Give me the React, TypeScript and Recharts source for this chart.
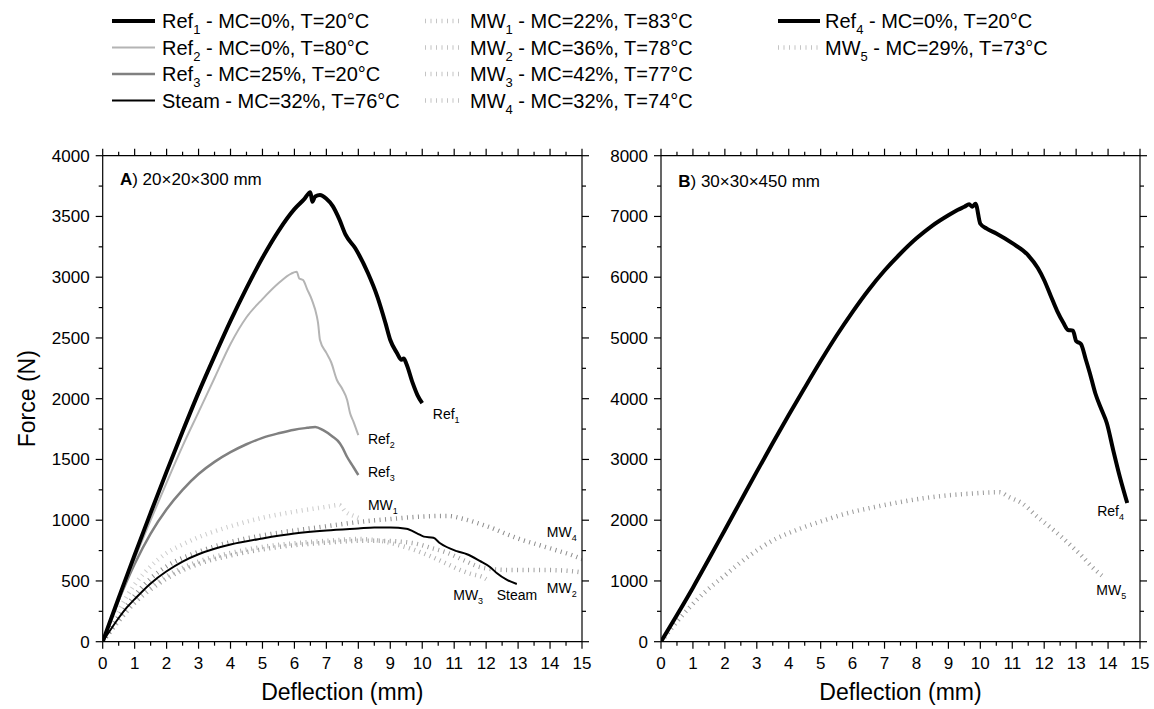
import React from "react";
import { LineChart, Line, XAxis, YAxis, ReferenceDot } from "recharts";

const FONT = "'Liberation Sans', Arial, Helvetica, sans-serif";

type Pt = [number, number];

// Panel A - 20x20x300 mm  [deflection mm, force N]
const ref1: Pt[] = [
  [0, 0], [0.5, 360], [1, 715], [1.5, 1060], [2, 1400], [2.5, 1730], [3, 2050], [3.5, 2350],
  [4, 2640], [4.5, 2910], [5, 3160], [5.5, 3380], [6, 3560], [6.3, 3640], [6.5, 3700], [6.56, 3620],
  [6.65, 3665], [6.8, 3676], [7, 3645], [7.2, 3585], [7.4, 3480], [7.6, 3350], [7.9, 3240], [8.3, 3034],
  [8.6, 2836], [8.85, 2622], [9, 2483], [9.2, 2380], [9.35, 2320], [9.42, 2330], [9.5, 2290], [9.7, 2130],
  [9.85, 2030], [10, 1963],
];
const ref2: Pt[] = [
  [0, 0], [0.5, 340], [1, 680], [1.5, 1000], [2, 1310], [2.5, 1610], [3, 1890], [3.5, 2170],
  [4, 2450], [4.5, 2670], [5, 2820], [5.5, 2950], [5.9, 3030], [6.07, 3045], [6.15, 2990],
  [6.27, 2977], [6.4, 2900], [6.55, 2812], [6.7, 2680], [6.74, 2622], [6.8, 2483], [7, 2377],
  [7.15, 2300], [7.33, 2154], [7.5, 2080], [7.65, 1990], [7.74, 1882], [7.85, 1810], [8, 1700],
];
const ref3: Pt[] = [
  [0, 0], [0.5, 340], [1, 640], [1.5, 890], [2, 1090], [2.5, 1250], [3, 1380], [3.5, 1480],
  [4, 1560], [4.5, 1625], [5, 1678], [5.5, 1715], [6, 1745], [6.4, 1760], [6.65, 1768], [6.9, 1741],
  [7.2, 1687], [7.42, 1634], [7.5, 1600], [7.65, 1520], [7.84, 1440], [8, 1372],
];
const steam: Pt[] = [
  [0, 0], [0.25, 100], [0.5, 195], [0.75, 280], [1, 350], [1.5, 480], [2, 580], [2.5, 660],
  [3, 720], [3.5, 765], [4, 800], [5, 850], [6, 890], [7, 915], [8, 932], [8.5, 940], [9, 940],
  [9.5, 930], [9.85, 890], [10.05, 865], [10.35, 855], [10.56, 810], [11.08, 745], [11.4, 720],
  [11.8, 665], [12.12, 615], [12.33, 565], [12.64, 510], [12.96, 475],
];
const mw1: Pt[] = [
  [0, 0], [0.5, 260], [1, 470], [1.5, 620], [2, 730], [2.5, 800], [3, 860], [4, 950], [5, 1020],
  [6, 1070], [7, 1110], [7.4, 1125], [7.6, 1070], [7.9, 1030], [8.1, 1010],
];
const mw2: Pt[] = [
  [0, 0], [0.5, 170], [1, 320], [1.5, 430], [2, 520], [3, 640], [4, 710], [5, 760], [6, 795],
  [7, 815], [8, 830], [8.7, 830], [9.7, 812], [10.3, 770], [10.8, 730], [11.3, 670], [11.8, 615],
  [12.3, 595], [12.85, 590], [13.9, 590], [14.5, 585], [15, 570],
];
const mw3: Pt[] = [
  [0, 0], [0.5, 180], [1, 330], [1.5, 450], [2, 540], [3, 660], [4, 730], [5, 780], [6, 810],
  [7, 830], [8, 845], [8.7, 830], [9.2, 800], [9.7, 760], [10.2, 710], [10.7, 650], [11.1, 600],
  [11.5, 560], [11.9, 530], [12, 515],
];
const mw4: Pt[] = [
  [0, 0], [0.5, 200], [1, 380], [1.5, 520], [2, 620], [3, 740], [4, 820], [5, 875], [6, 915],
  [7, 950], [8, 985], [9, 1010], [10, 1030], [10.8, 1035], [11.3, 1010], [11.8, 970], [12.1, 944],
  [12.6, 890], [13.1, 840], [13.6, 800], [14.1, 760], [14.6, 720], [15, 680],
];

// Panel B - 30x30x450 mm
const ref4: Pt[] = [
  [0, 0], [0.5, 440], [1, 890], [1.5, 1360], [2, 1840], [2.5, 2320], [3, 2800], [3.5, 3270],
  [4, 3730], [4.5, 4180], [5, 4620], [5.5, 5040], [6, 5430], [6.5, 5790], [7, 6110], [7.5, 6390],
  [8, 6640], [8.5, 6850], [9, 7020], [9.3, 7110], [9.5, 7160], [9.65, 7200], [9.75, 7160],
  [9.85, 7210], [10, 6880], [10.2, 6800], [10.5, 6720], [11, 6560], [11.5, 6360], [11.8, 6150],
  [12, 5950], [12.2, 5700], [12.4, 5450], [12.6, 5250], [12.75, 5130], [12.9, 5120], [13, 4950],
  [13.15, 4900], [13.3, 4650], [13.43, 4420], [13.6, 4090], [13.8, 3814], [13.96, 3600],
  [14.16, 3156], [14.37, 2711], [14.6, 2283],
];
const mw5: Pt[] = [
  [0, 0], [0.5, 330], [0.9, 568], [1.4, 830], [1.95, 1070], [2.7, 1390], [3.5, 1667], [4.3, 1850],
  [5.07, 1990], [5.8, 2110], [6.63, 2210], [7.4, 2290], [8.2, 2360], [9, 2410], [9.77, 2440],
  [10.2, 2455], [10.6, 2460], [10.9, 2380], [11.3, 2280], [11.8, 2050], [12.4, 1790], [12.8, 1600],
  [13.2, 1400], [13.5, 1230], [13.85, 1070],
];

const xTicks = Array.from({ length: 31 }, (_, i) => i / 2);
const yTicksA = Array.from({ length: 17 }, (_, i) => i * 250);
const yTicksB = Array.from({ length: 17 }, (_, i) => i * 500);

// curve-end labels, anchored in data units
const labelsA = [
  { x: 10.33, y: 1833, main: "Ref", sub: "1" },
  { x: 8.3, y: 1627, main: "Ref", sub: "2" },
  { x: 8.3, y: 1358, main: "Ref", sub: "3" },
  { x: 8.3, y: 1084, main: "MW", sub: "1" },
  { x: 13.9, y: 864, main: "MW", sub: "4" },
  { x: 10.97, y: 343, main: "MW", sub: "3" },
  { x: 12.33, y: 343, main: "Steam", sub: "" },
  { x: 13.9, y: 400, main: "MW", sub: "2" },
];
const labelsB = [
  { x: 13.66, y: 2069, main: "Ref", sub: "4" },
  { x: 13.63, y: 769, main: "MW", sub: "5" },
];

const STYLE: Record<string, { color: string; width: number; dash?: string }> = {
  Ref1: { color: "#000000", width: 4 },
  Ref2: { color: "#b4b4b4", width: 2 },
  Ref3: { color: "#808080", width: 2.5 },
  Steam: { color: "#000000", width: 2 },
  MW1: { color: "#cccccc", width: 4.5, dash: "1 4.5" },
  MW2: { color: "#a0a0a0", width: 4.5, dash: "1 4.5" },
  MW3: { color: "#b4b4b4", width: 4.5, dash: "1 4.5" },
  MW4: { color: "#8c8c8c", width: 4.5, dash: "1 4.5" },
  Ref4: { color: "#000000", width: 4 },
  MW5: { color: "#999999", width: 4.5, dash: "1 4.5" },
};

const seriesA: [string, Pt[]][] = [
  ["MW1", mw1], ["MW2", mw2], ["MW3", mw3], ["MW4", mw4],
  ["Ref3", ref3], ["Ref2", ref2], ["Steam", steam], ["Ref1", ref1],
];
const seriesB: [string, Pt[]][] = [["MW5", mw5], ["Ref4", ref4]];

const rows = (pts: Pt[]) => pts.map(([x, y]) => ({ x, y }));

function Tick(props: any) {
  const { x, y, payload, side, step, label } = props;
  const v = payload.value;
  const major = Math.abs(v / step - Math.round(v / step)) < 1e-6;
  const len = major ? 7 : 4;
  let x2 = x, y2 = y, tx = x, ty = y, anchor = "middle";
  if (side === "bottom") { y2 = y + len; ty = y + 27; }
  if (side === "top") { y2 = y - len; }
  if (side === "left") { x2 = x - len; tx = x - 13; ty = y + 6; anchor = "end"; }
  if (side === "right") { x2 = x + len; }
  return (
    <g>
      <line x1={x} y1={y} x2={x2} y2={y2} stroke="#000" strokeWidth={1.2} />
      {label && major && (
        <text x={tx} y={ty} textAnchor={anchor} fontFamily={FONT} fontSize={17} fill="#000">
          {Math.round(v)}
        </text>
      )}
    </g>
  );
}

function Anno({ cx, cy, main, sub }: any) {
  return (
    <text x={cx} y={cy} fontFamily={FONT} fontSize={14} fill="#000">
      {main}
      {sub ? <tspan dy={4} fontSize={9}>{sub}</tspan> : null}
    </text>
  );
}

function PanelTitle({ cx, cy, letter, rest }: any) {
  return (
    <text x={cx} y={cy} fontFamily={FONT} fontSize={17} fill="#000">
      <tspan fontWeight="bold">{letter}</tspan>
      {rest}
    </text>
  );
}

const axisLine = { stroke: "#000", strokeWidth: 1.2 };

function Panel({ width, margin, series, yMax, yTicks, yStep, labels, letter, rest, titleY }: any) {
  return (
    <LineChart width={width} height={709} margin={margin}>
      <XAxis xAxisId="b" dataKey="x" type="number" domain={[0, 15]} ticks={xTicks} interval={0}
        tickSize={0} tickMargin={0} tickLine={false} axisLine={axisLine} height={60}
        tick={<Tick side="bottom" step={1} label />} allowDataOverflow />
      <XAxis xAxisId="t" orientation="top" dataKey="x" type="number" domain={[0, 15]} ticks={xTicks}
        interval={0} tickSize={0} tickMargin={0} tickLine={false} axisLine={axisLine} height={10}
        tick={<Tick side="top" step={1} />} allowDataOverflow />
      <YAxis yAxisId="l" type="number" domain={[0, yMax]} ticks={yTicks} interval={0}
        tickSize={0} tickMargin={0} tickLine={false} axisLine={axisLine} width={60}
        tick={<Tick side="left" step={yStep} label />} allowDataOverflow />
      <YAxis yAxisId="r" orientation="right" type="number" domain={[0, yMax]} ticks={yTicks} interval={0}
        tickSize={0} tickMargin={0} tickLine={false} axisLine={axisLine} width={10}
        tick={<Tick side="right" step={yStep} />} allowDataOverflow />
      {series.map(([name, pts]: [string, Pt[]]) => {
        const s = STYLE[name];
        return (
          <Line key={name} xAxisId="b" yAxisId="l" data={rows(pts)} dataKey="y" type="monotone"
            stroke={s.color} strokeWidth={s.width} strokeDasharray={s.dash} dot={false}
            activeDot={false} isAnimationActive={false} strokeLinejoin="round" />
        );
      })}
      {labels.map((l: any, i: number) => (
        <ReferenceDot key={i} xAxisId="b" yAxisId="l" x={l.x} y={l.y} r={0} ifOverflow="visible"
          shape={(p: any) => <Anno cx={p.cx} cy={p.cy} main={l.main} sub={l.sub} />} />
      ))}
      <ReferenceDot xAxisId="b" yAxisId="l" x={0.54} y={titleY} r={0} ifOverflow="visible"
        shape={(p: any) => <PanelTitle cx={p.cx} cy={p.cy} letter={letter} rest={rest} />} />
    </LineChart>
  );
}

const legendItems = [
  { key: "Ref1", col: 0, row: 0, main: "Ref", sub: "1", rest: " - MC=0%, T=20°C" },
  { key: "Ref2", col: 0, row: 1, main: "Ref", sub: "2", rest: " - MC=0%, T=80°C" },
  { key: "Ref3", col: 0, row: 2, main: "Ref", sub: "3", rest: " - MC=25%, T=20°C" },
  { key: "Steam", col: 0, row: 3, main: "Steam", sub: "", rest: " - MC=32%, T=76°C" },
  { key: "MW1", col: 1, row: 0, main: "MW", sub: "1", rest: " - MC=22%, T=83°C" },
  { key: "MW2", col: 1, row: 1, main: "MW", sub: "2", rest: " - MC=36%, T=78°C" },
  { key: "MW3", col: 1, row: 2, main: "MW", sub: "3", rest: " - MC=42%, T=77°C" },
  { key: "MW4", col: 1, row: 3, main: "MW", sub: "4", rest: " - MC=32%, T=74°C" },
  { key: "Ref4", col: 2, row: 0, main: "Ref", sub: "4", rest: " - MC=0%, T=20°C" },
  { key: "MW5", col: 2, row: 1, main: "MW", sub: "5", rest: " - MC=29%, T=73°C" },
];
const legendCols = [
  { x1: 112, x2: 155, tx: 162 },
  { x1: 425, x2: 463, tx: 470 },
  { x1: 778, x2: 820, tx: 825 },
];
const legendRows = [28, 54.5, 81, 107.5];

function Legend() {
  return (
    <svg width={1154} height={709} style={{ position: "absolute", left: 0, top: 0, pointerEvents: "none" }}>
      {legendItems.map((it) => {
        const c = legendCols[it.col];
        const by = legendRows[it.row];
        const s = STYLE[it.key];
        const isMw = !!s.dash;
        return (
          <g key={it.key}>
            <line x1={c.x1} x2={c.x2} y1={by - 7} y2={by - 7} stroke={isMw ? "#c4c4c4" : s.color}
              strokeWidth={s.width} strokeDasharray={s.dash} />
            <text x={c.tx} y={by} fontFamily={FONT} fontSize={20} fill="#000">
              {it.main}
              {it.sub ? <tspan dy={6} fontSize={13}>{it.sub}</tspan> : null}
              <tspan dy={it.sub ? -6 : 0}>{it.rest}</tspan>
            </text>
          </g>
        );
      })}
      <text transform="translate(35,398.7) rotate(-90)" textAnchor="middle" fontFamily={FONT} fontSize={23} fill="#000">
        Force (N)
      </text>
      <text x={342.3} y={700} textAnchor="middle" fontFamily={FONT} fontSize={23} fill="#000">
        Deflection (mm)
      </text>
      <text x={900.5} y={700} textAnchor="middle" fontFamily={FONT} fontSize={23} fill="#000">
        Deflection (mm)
      </text>
    </svg>
  );
}

export default function App() {
  return (
    <div style={{ position: "absolute", left: 0, top: 0, width: 1154, height: 709, background: "#fff" }}>
      <div style={{ position: "absolute", left: 0, top: 0 }}>
        <Panel width={600} margin={{ top: 145.7, right: 8, bottom: 7.3, left: 42.7 }}
          series={seriesA} yMax={4000} yTicks={yTicksA} yStep={500} labels={labelsA}
          letter="A" rest=") 20×20×300 mm" titleY={3759} />
      </div>
      <div style={{ position: "absolute", left: 560, top: 0 }}>
        <Panel width={594} margin={{ top: 145.7, right: 4, bottom: 7.3, left: 41 }}
          series={seriesB} yMax={8000} yTicks={yTicksB} yStep={1000} labels={labelsB}
          letter="B" rest=") 30×30×450 mm" titleY={7490} />
      </div>
      <Legend />
    </div>
  );
}
